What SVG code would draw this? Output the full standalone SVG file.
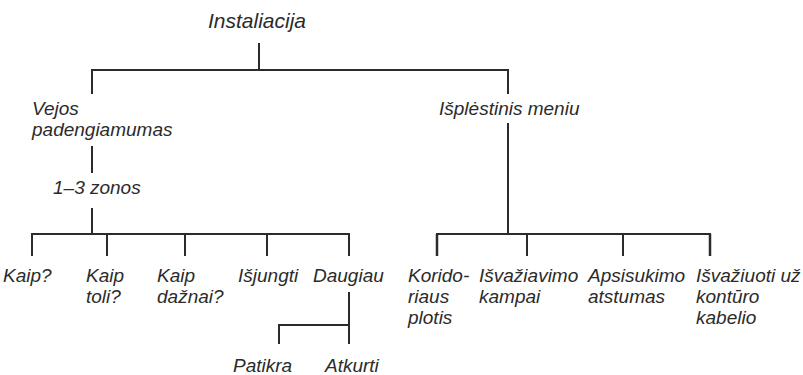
<svg xmlns="http://www.w3.org/2000/svg" width="803" height="375" viewBox="0 0 803 375">
<style>
text{font-family:"Liberation Sans",Arial,sans-serif;font-style:italic;font-size:19px;fill:#2b2b2b}
.title{font-size:21px}
.c line{stroke:#2b2b2b;stroke-width:2;fill:none}
</style>
<rect width="803" height="375" fill="#fff"/>
<g class="c" id="connectors">
<line x1="259" y1="43" x2="259" y2="70"/>
<line x1="91" y1="70" x2="509" y2="70"/>
<line x1="92" y1="70" x2="92" y2="94"/>
<line x1="508" y1="70" x2="508" y2="94"/>
<line x1="92" y1="146" x2="92" y2="173"/>
<line x1="92" y1="208" x2="92" y2="234"/>
<line x1="31" y1="234" x2="350" y2="234"/>
<line x1="32" y1="234" x2="32" y2="256"/>
<line x1="107" y1="234" x2="107" y2="256"/>
<line x1="185" y1="234" x2="185" y2="256"/>
<line x1="267" y1="234" x2="267" y2="256"/>
<line x1="349" y1="234" x2="349" y2="256"/>
<line x1="349" y1="292" x2="349" y2="344"/>
<line x1="278" y1="325" x2="350" y2="325"/>
<line x1="279" y1="325" x2="279" y2="344"/>
<line x1="508" y1="123" x2="508" y2="234"/>
<line x1="436" y1="234" x2="711" y2="234"/>
<line x1="437" y1="234" x2="437" y2="256" style="stroke-width:2.5"/>
<line x1="527" y1="234" x2="527" y2="256"/>
<line x1="623" y1="234" x2="623" y2="256"/>
<line x1="710" y1="234" x2="710" y2="256" style="stroke-width:2.5"/>
</g>
<g id="n-instaliacija"><text class="title" x="208" y="28">Instaliacija</text></g>
<g id="n-vejos"><text x="32" y="115">Vejos</text><text x="32" y="136">padengiamumas</text></g>
<g id="n-zonos"><text x="53" y="194">1–3 zonos</text></g>
<g id="n-isplestinis"><text x="439" y="115">Išplėstinis meniu</text></g>
<g id="n-kaip"><text x="3" y="282">Kaip?</text></g>
<g id="n-kaiptoli"><text x="86" y="282">Kaip</text><text x="86" y="303">toli?</text></g>
<g id="n-kaipdaznai"><text x="157" y="282">Kaip</text><text x="157" y="303">dažnai?</text></g>
<g id="n-isjungti"><text x="238" y="282">Išjungti</text></g>
<g id="n-daugiau"><text x="313" y="282">Daugiau</text></g>
<g id="n-patikra"><text x="233" y="372">Patikra</text></g>
<g id="n-atkurti"><text x="325" y="372">Atkurti</text></g>
<g id="n-koridoriaus"><text x="408" y="282">Korido-</text><text x="408" y="303">riaus</text><text x="408" y="324">plotis</text></g>
<g id="n-isvaziavimo"><text x="479" y="282">Išvažiavimo</text><text x="479" y="303">kampai</text></g>
<g id="n-apsisukimo"><text x="588" y="282">Apsisukimo</text><text x="588" y="303">atstumas</text></g>
<g id="n-isvaziuoti"><text x="696" y="282">Išvažiuoti už</text><text x="696" y="303">kontūro</text><text x="696" y="324">kabelio</text></g>
</svg>
